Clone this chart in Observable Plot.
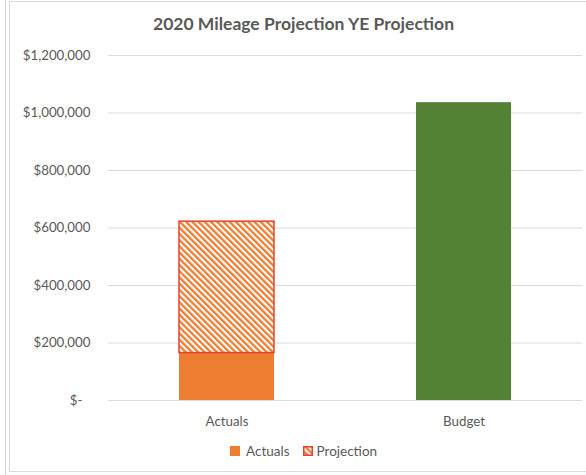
<!DOCTYPE html>
<html>
<head>
<meta charset="utf-8">
<script src="https://cdn.jsdelivr.net/npm/d3@7"></script>
<script src="https://cdn.jsdelivr.net/npm/@observablehq/plot@0.6"></script>
<style>
  html, body { margin: 0; padding: 0; background: #fff; }
  #wrap { position: relative; width: 586px; height: 475px; overflow: hidden; font-family: Lato, "Open Sans", sans-serif; color: #595959; }
  #outerline { position: absolute; left: 5px; top: 0; width: 1px; height: 475px; background: #d4d4d4; }
  #frame { position: absolute; left: 9px; top: 1px; width: 590px; height: 471px; border: 1px solid #d9d9d9; border-right: none; box-sizing: border-box; }
  #title { position: absolute; left: 0; top: 13px; width: 607px; text-align: center; font-size: 17.5px; font-weight: bold; color: #595959; }
  #chart { position: absolute; left: 0; top: 0; }
  #legend { position: absolute; left: 230px; top: 443px; display: flex; align-items: center; font-size: 13.5px; color: #595959; }
  #legend .sw { width: 10px; height: 10px; margin-right: 6px; }
  #legend .item { display: flex; align-items: center; margin-right: 13px; }
</style>
</head>
<body>
<div id="wrap">
  <div id="outerline"></div>
  <div id="frame"></div>
  <div id="title">2020 Mileage Projection YE Projection</div>
  <div id="chart"></div>
  <div id="legend"></div>
</div>
<script>
// Data
const categories = ["Actuals", "Budget"];
const seriesNames = ["Actuals", "Projection", "Budget"];
const actualsValues = [165000, 0];
const projectionValues = [457000, 0];
const budgetValues = [0, 1036000];
const yTicks = [0, 200000, 400000, 600000, 800000, 1000000, 1200000];

const ORANGE = "#ED7D31";
const RED = "#E8412F";
const GREEN = "#548235";
const fills = { Actuals: ORANGE, Projection: "url(#hatch)", Budget: GREEN };
const strokes = { Actuals: "none", Projection: RED, Budget: "none" };

const rows = [];
categories.forEach((c, i) => {
  rows.push({ cat: c, series: "Actuals", value: actualsValues[i] });
  rows.push({ cat: c, series: "Projection", value: projectionValues[i] });
  rows.push({ cat: c, series: "Budget", value: budgetValues[i] });
});
const data = rows.filter(d => d.value > 0);

const fmt = d => d === 0 ? "$-" : "$" + d3.format(",")(d);

const plot = Plot.plot({
  width: 586,
  height: 475,
  marginTop: 55,
  marginBottom: 75,
  marginLeft: 108,
  marginRight: 4,
  style: { fontFamily: "Lato, 'Open Sans', sans-serif", fontSize: "13px", color: "#595959", background: "transparent" },
  x: { domain: categories, paddingInner: 0.6, paddingOuter: 0.3, label: null },
  y: { domain: [0, 1200000], label: null },
  color: { type: "identity" },
  marks: [
    Plot.ruleY(yTicks, { stroke: "#d9d9d9", strokeWidth: 1 }),
    Plot.axisY({ ticks: yTicks, tickFormat: fmt, tickSize: 0, tickPadding: 18, fill: "#595959", fontSize: 13.3 }),
    Plot.axisX({ tickSize: 0, tickPadding: 16, fill: "#595959", fontSize: 13.3 }),
    Plot.barY(data, Plot.stackY({
      x: "cat",
      y: "value",
      order: seriesNames,
      z: "series",
      fill: d => fills[d.series],
      stroke: d => strokes[d.series],
      strokeWidth: 1.5
    }))
  ]
});

// hatch pattern definition
const ns = "http://www.w3.org/2000/svg";
const defs = document.createElementNS(ns, "defs");
defs.innerHTML = `<pattern id="hatch" patternUnits="userSpaceOnUse" width="4.4" height="4.4" patternTransform="rotate(-45)">
  <rect width="4.4" height="4.4" fill="#ffffff"></rect>
  <rect x="0" y="0" width="2.3" height="4.4" fill="${ORANGE}"></rect>
</pattern>`;
plot.insertBefore(defs, plot.firstChild);

// shift the "$-" label like Excel accounting format
d3.select(plot).selectAll("text").filter(function() { return this.textContent === "$-"; }).attr("dx", -8);

document.getElementById("chart").appendChild(plot);

// legend
const legend = document.getElementById("legend");
legend.innerHTML = `
  <div class="item"><div class="sw" style="background:${ORANGE}"></div><span>Actuals</span></div>
  <div class="item"><svg class="sw" width="10" height="10" style="margin-right:4px">
    <defs><pattern id="hatchL" patternUnits="userSpaceOnUse" width="4.4" height="4.4" patternTransform="rotate(-45)">
      <rect width="4.4" height="4.4" fill="#fff"></rect><rect width="2.3" height="4.4" fill="${ORANGE}"></rect></pattern></defs>
    <rect x="0.75" y="0.75" width="8.5" height="8.5" fill="url(#hatchL)" stroke="${RED}" stroke-width="1.5"></rect></svg><span>Projection</span></div>`;
</script>
</body>
</html>
